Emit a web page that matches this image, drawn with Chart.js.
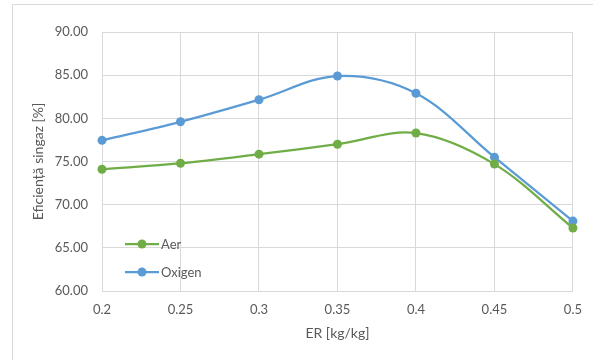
<!DOCTYPE html>
<html>
<head>
<meta charset="utf-8">
<script src="https://cdn.jsdelivr.net/npm/chart.js@4"></script>
<style>
  html, body { margin: 0; padding: 0; background: #fff; }
  #wrap { position: relative; width: 593px; height: 360px; }
</style>
</head>
<body>
<div id="wrap"><canvas id="chartCanvas" width="593" height="360"></canvas></div>
<script>
// Data
const erValues = [0.2, 0.25, 0.3, 0.35, 0.4, 0.45, 0.5];
const aerValues = [74.1, 74.8, 75.85, 77.0, 78.3, 74.7, 67.3];
const oxigenValues = [77.45, 79.6, 82.15, 84.9, 82.9, 75.5, 68.1];
const seriesNames = ['Aer', 'Oxigen'];
const xTitle = 'ER [kg/kg]';
const yTitle = 'Eficiență singaz [%]';

const textColor = '#595959';
const gridColor = '#d9d9d9';
const fontFamily = 'Lato, "Open Sans", sans-serif';

// Outer chart frame (the box runs past the picture on the right and bottom)
const framePlugin = {
    id: 'frame',
    beforeDraw(chart) {
        const c = chart.ctx;
        c.save();
        c.strokeStyle = '#d9d9d9';
        c.lineWidth = 1;
        c.beginPath();
        c.moveTo(12.5, 400);
        c.lineTo(12.5, 4.5);
        c.lineTo(600, 4.5);
        c.stroke();
        c.restore();
    }
};

// Legend drawn inside the plot area, bottom left
const insideLegend = {
    id: 'insideLegend',
    afterDraw(chart) {
        const c = chart.ctx;
        const area = chart.chartArea;
        c.save();
        chart.data.datasets.forEach((ds, i) => {
            const y = area.top + 212 + i * 28;
            const x0 = area.left + 23;
            c.strokeStyle = ds.borderColor;
            c.lineWidth = 2.25;
            c.beginPath();
            c.moveTo(x0, y);
            c.lineTo(x0 + 34, y);
            c.stroke();
            c.fillStyle = ds.backgroundColor;
            c.beginPath();
            c.arc(x0 + 17, y, 4.5, 0, Math.PI * 2);
            c.fill();
            c.fillStyle = textColor;
            c.font = '13px ' + fontFamily;
            c.textBaseline = 'middle';
            c.textAlign = 'left';
            c.fillText(ds.label, x0 + 36, y + 1);
        });
        c.restore();
    }
};

const ctx = document.getElementById('chartCanvas').getContext('2d');

let myChart = new Chart(ctx, {
    type: 'line',
    data: {
        datasets: [{
            label: seriesNames[0],
            data: erValues.map((x, i) => ({ x: x, y: aerValues[i] })),
            borderColor: '#70ad47',
            backgroundColor: '#70ad47',
            borderWidth: 2.25,
            pointRadius: 4.5,
            pointBorderWidth: 0,
            tension: 0.35,
            fill: false
        }, {
            label: seriesNames[1],
            data: erValues.map((x, i) => ({ x: x, y: oxigenValues[i] })),
            borderColor: '#5b9bd5',
            backgroundColor: '#5b9bd5',
            borderWidth: 2.25,
            pointRadius: 4.5,
            pointBorderWidth: 0,
            tension: 0.35,
            fill: false
        }]
    },
    options: {
        responsive: false,
        animation: false,
        clip: false,
        layout: {
            padding: { left: 0, top: 32, right: 15, bottom: 13 }
        },
        scales: {
            x: {
                type: 'linear',
                min: 0.2,
                max: 0.5,
                afterBuildTicks(scale) {
                    scale.ticks = erValues.map(v => ({ value: v }));
                },
                afterFit(scale) {
                    scale.height = 56;
                },
                ticks: {
                    color: textColor,
                    font: { family: fontFamily, size: 13 },
                    padding: 11,
                    maxRotation: 0,
                    callback: v => String(Math.round(v * 100) / 100)
                },
                grid: { color: gridColor, drawTicks: false },
                border: { color: gridColor },
                title: {
                    display: true,
                    text: xTitle,
                    color: textColor,
                    font: { family: fontFamily, size: 14 },
                    padding: { top: 0, bottom: 5 }
                }
            },
            y: {
                min: 60,
                max: 90,
                afterFit(scale) {
                    scale.width = 102;
                },
                ticks: {
                    stepSize: 5,
                    color: textColor,
                    font: { family: fontFamily, size: 13 },
                    padding: 14,
                    callback: v => v.toFixed(2)
                },
                grid: { color: gridColor, drawTicks: false },
                border: { color: gridColor },
                title: {
                    display: true,
                    text: yTitle,
                    color: textColor,
                    font: { family: fontFamily, size: 14 },
                    padding: { top: 30, bottom: 0 }
                }
            }
        },
        plugins: {
            legend: { display: false },
            tooltip: { enabled: false }
        }
    },
    plugins: [framePlugin, insideLegend]
});
</script>
</body>
</html>
